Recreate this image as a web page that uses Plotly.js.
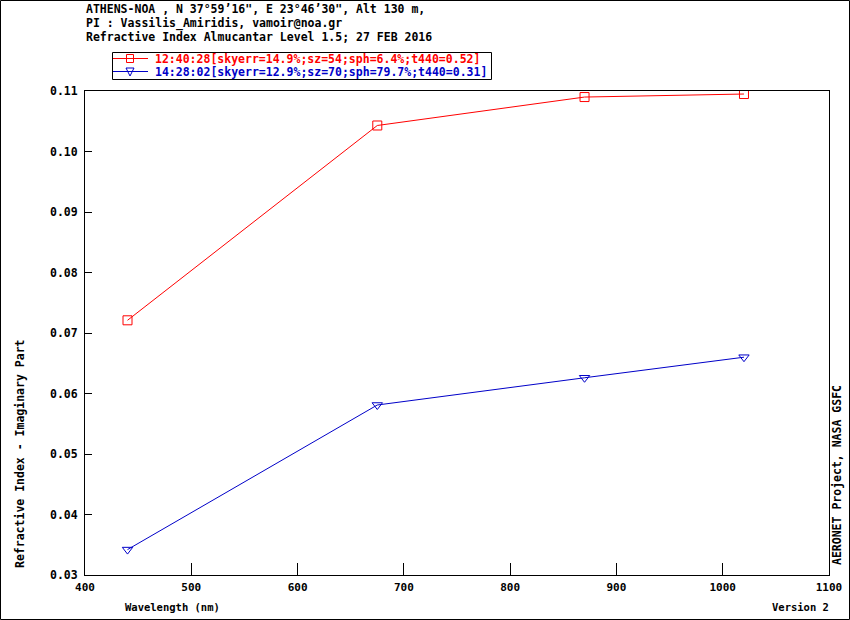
<!DOCTYPE html>
<html><head><meta charset="utf-8">
<script src="https://cdn.plot.ly/plotly-3.0.1.min.js"></script>
<style>html,body{margin:0;padding:0;background:#fff}#chart{width:850px;height:620px}</style>
</head><body><div id="chart"></div>
<script>
const wavelengths = [440, 675, 870, 1020];
const series1Name = '12:40:28[skyerr=14.9%;sz=54;sph=6.4%;t440=0.52]';
const series1Values = [0.0721, 0.1043, 0.1090, 0.1095];
const series2Name = '14:28:02[skyerr=12.9%;sz=70;sph=79.7%;t440=0.31]';
const series2Values = [0.0342, 0.0581, 0.0626, 0.0660];
const headerLines = [
  'ATHENS-NOA , N 37\u00b059\u201916", E 23\u00b046\u201930", Alt 130 m,',
  'PI : Vassilis_Amiridis, vamoir@noa.gr',
  'Refractive Index Almucantar Level 1.5; 27 FEB 2016'
];
const xTitle = 'Wavelength (nm)';
const yTitle = 'Refractive Index - Imaginary Part';
const rightNote = 'AERONET Project, NASA GSFC';
const versionNote = 'Version 2';

const W = 850, H = 620, L = 85, R = 21, T = 91, B = 45;
const pw = W - L - R, ph = H - T - B;
const px = v => (v - L) / pw;           // page x -> paper
const py = v => (H - B - v) / ph;       // page y -> paper
const mono = '"DejaVu Sans Mono", "Liberation Mono", monospace';
const RED = '#ff0000', BLUE = '#0000c8';

const traces = [
  {x: wavelengths, y: series1Values, type: 'scatter', mode: 'lines+markers',
   name: series1Name, showlegend: false,
   line: {color: RED, width: 1},
   marker: {symbol: 'square-open', size: 9, color: RED, line: {width: 1}}},
  {x: wavelengths, y: series2Values, type: 'scatter', mode: 'lines+markers',
   name: series2Name, showlegend: false,
   line: {color: BLUE, width: 1},
   marker: {symbol: 'triangle-down-open', size: 9, color: BLUE, line: {width: 1}}}
];

const annotations = headerLines.map((t, i) => ({
  text: '<b>' + t + '</b>', xref: 'paper', yref: 'paper',
  x: px(84), y: py(9 + i * 14), xanchor: 'left', yanchor: 'middle',
  showarrow: false, font: {family: mono, size: 11.5, color: '#000'}
}));
annotations.push(
  {text: '<b>' + yTitle + '</b>', xref: 'paper', yref: 'paper', x: px(20), y: py(454),
   textangle: -90, showarrow: false, xanchor: 'center', yanchor: 'middle',
   font: {family: mono, size: 11.5, color: '#000'}},
  {text: '<b>' + rightNote + '</b>', xref: 'paper', yref: 'paper', x: px(837), y: py(475),
   textangle: -90, showarrow: false, xanchor: 'center', yanchor: 'middle',
   font: {family: mono, size: 11.5, color: '#000'}},
  {text: '<b>' + xTitle + '</b>', xref: 'paper', yref: 'paper', x: px(123), y: py(607),
   xanchor: 'left', yanchor: 'middle', showarrow: false,
   font: {family: mono, size: 10.5, color: '#000'}},
  {text: '<b>' + versionNote + '</b>', xref: 'paper', yref: 'paper', x: px(831), y: py(607),
   xanchor: 'right', yanchor: 'middle', showarrow: false,
   font: {family: mono, size: 10.5, color: '#000'}},
  // legend texts
  {text: '<b>' + series1Name + '</b>', xref: 'paper', yref: 'paper', x: px(153), y: py(59),
   xanchor: 'left', yanchor: 'middle', showarrow: false,
   font: {family: mono, size: 11.5, color: RED}},
  {text: '<b>' + series2Name + '</b>', xref: 'paper', yref: 'paper', x: px(153), y: py(72),
   xanchor: 'left', yanchor: 'middle', showarrow: false,
   font: {family: mono, size: 11.5, color: BLUE}}
);

const sh = (o) => Object.assign({xref: 'paper', yref: 'paper', layer: 'above'}, o);
const shapes = [
  sh({type: 'rect', x0: px(0.5), x1: px(849.5), y0: py(619.5), y1: py(0.5),
      line: {color: '#000', width: 1}, fillcolor: 'rgba(0,0,0,0)'}),
  // legend box
  sh({type: 'rect', x0: px(112.5), x1: px(491.5), y0: py(79.5), y1: py(52.5),
      line: {color: '#000', width: 1}, fillcolor: '#fff'}),
  sh({type: 'line', x0: px(113), x1: px(148), y0: py(58.5), y1: py(58.5), line: {color: RED, width: 1}}),
  sh({type: 'rect', x0: px(126.5), x1: px(133.5), y0: py(62.5), y1: py(54.5), line: {color: RED, width: 1}}),
  sh({type: 'line', x0: px(113), x1: px(148), y0: py(71.5), y1: py(71.5), line: {color: BLUE, width: 1}}),
  sh({type: 'path', path: 'M ' + px(126) + ' ' + py(68) + ' L ' + px(134) + ' ' + py(68) +
      ' L ' + px(130) + ' ' + py(76) + ' Z', line: {color: BLUE, width: 1}})
];

const layout = {
  width: W, height: H,
  margin: {l: L, r: R, t: T, b: B, pad: 0},
  paper_bgcolor: '#fff', plot_bgcolor: '#fff',
  showlegend: false,
  xaxis: {range: [400, 1100], dtick: 100, tick0: 400, showgrid: false, zeroline: false,
    showline: true, linecolor: '#000', linewidth: 1, mirror: true,
    ticks: 'inside', ticklen: 12, tickcolor: '#000', tickwidth: 1,
    ticklabelstandoff: 2,
    tickfont: {family: mono, size: 11, color: '#000', weight: 'bold'}},
  yaxis: {range: [0.03, 0.11], dtick: 0.01, tick0: 0.03, tickformat: '.2f',
    showgrid: false, zeroline: false,
    showline: true, linecolor: '#000', linewidth: 1, mirror: true,
    ticks: 'inside', ticklen: 7, tickcolor: '#000', tickwidth: 1,
    ticklabelstandoff: 4,
    tickfont: {family: mono, size: 11.5, color: '#000', weight: 'bold'}},
  annotations: annotations,
  shapes: shapes
};

Plotly.newPlot('chart', traces, layout, {displayModeBar: false, staticPlot: true});
</script></body></html>
